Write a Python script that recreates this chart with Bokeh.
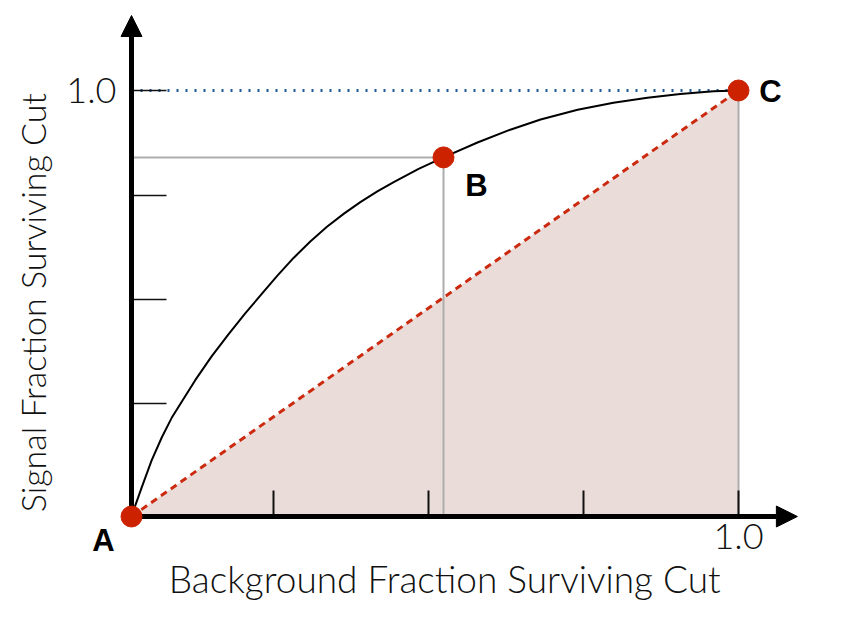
from bokeh.plotting import figure
from bokeh.models import (Range1d, LinearAxis, FixedTicker, CustomJSTickFormatter,
                          Arrow, NormalHead, Label, ColumnDataSource)
from bokeh.core.properties import value
from bokeh.embed import file_html
from bokeh.resources import INLINE

# ---- data ----
curve_x = [0.0, 0.005, 0.017, 0.033, 0.050, 0.066, 0.083, 0.105, 0.132, 0.160, 0.187,
           0.216, 0.240, 0.267, 0.295, 0.322, 0.350, 0.377, 0.405, 0.432, 0.473, 0.514,
           0.570, 0.624, 0.674, 0.735, 0.794, 0.850, 0.904, 0.959, 1.0]
curve_y = [0.0, 0.021, 0.069, 0.131, 0.186, 0.231, 0.270, 0.320, 0.376, 0.428, 0.476,
           0.525, 0.565, 0.607, 0.646, 0.680, 0.711, 0.738, 0.763, 0.785, 0.816, 0.843,
           0.878, 0.908, 0.932, 0.955, 0.971, 0.983, 0.992, 0.998, 1.0]
point_names = ["A", "B", "C"]
point_x = [0.0, 0.514, 1.0]
point_y = [0.0, 0.843, 1.0]
x_ticks = [0.234, 0.489, 0.745, 1.0]
y_ticks = [0.265, 0.509, 0.754, 1.0]
x_title = "Background Fraction Surviving Cut"
y_title = "Signal Fraction Surviving Cut"

FONT = "Lato Light, Roboto Light, Lato, sans-serif"
BOLD = "Liberation Sans"

p = figure(width=830, height=600,
           x_range=Range1d(-0.21582, 1.15156), y_range=Range1d(-0.19718, 1.21127),
           x_axis_type=None, y_axis_type=None, min_border=0,
           outline_line_color=None, toolbar_location=None, output_backend="svg")

# shaded triangle under the diagonal
p.patch([point_x[0], point_x[2], point_x[2]], [point_y[0], point_y[2], point_y[0]],
        fill_color="#EADCD9", line_color=None)

# guide lines for B and C
p.segment(x0=[point_x[1], 0, point_x[2]], y0=[0, point_y[1], 0],
          x1=[point_x[1], point_x[1], point_x[2]], y1=[point_y[1], point_y[1], point_y[2]],
          line_color="#ADADAD", line_width=2)

# dotted line at signal = 1
p.line([0, point_x[2]], [point_y[2], point_y[2]], line_color="#1C5A9A",
       line_width=3, line_dash="2 7")

# random-cut diagonal
p.line([point_x[0], point_x[2]], [point_y[0], point_y[2]], line_color="#CC2A10",
       line_width=3, line_dash="7 5")

# ROC curve
p.line(curve_x, curve_y, line_color="black", line_width=2, line_join="round")

# axes
fmt = CustomJSTickFormatter(code="return tick >= 0.999 ? '1.0' : '';")
xax = LinearAxis(fixed_location=0, bounds=(0, 1.0), ticker=FixedTicker(ticks=x_ticks),
                 formatter=fmt, axis_line_width=5, axis_line_color="black",
                 major_tick_in=26, major_tick_out=0, major_tick_line_width=2,
                 major_tick_line_color="#111111", minor_tick_line_color=None,
                 major_label_standoff=7, major_label_text_font=FONT,
                 major_label_text_font_size="36px", major_label_text_color="#111111")
yax = LinearAxis(fixed_location=0, bounds=(0, 1.0), ticker=FixedTicker(ticks=y_ticks),
                 formatter=fmt, axis_line_width=5, axis_line_color="black",
                 major_tick_in=35, major_tick_out=0, major_tick_line_width=1.5,
                 major_tick_line_color="#111111", minor_tick_line_color=None,
                 major_label_standoff=15, major_label_text_font=FONT,
                 major_label_text_font_size="36px", major_label_text_color="#111111",
                 major_label_orientation="horizontal")
p.add_layout(xax, "below")
p.add_layout(yax, "left")

p.add_layout(Arrow(end=NormalHead(size=21, fill_color="black", line_color="black"),
                   x_start=0, y_start=0, x_end=1.097, y_end=0,
                   line_width=5, line_color="black"))
p.add_layout(Arrow(end=NormalHead(size=21, fill_color="black", line_color="black"),
                   x_start=0, y_start=0, x_end=0, y_end=1.176,
                   line_width=5, line_color="black"))

# axis titles
p.add_layout(Label(x=0.516, y=-0.146, text=x_title, text_align="center",
                   text_baseline="middle", text_font=FONT, text_font_size="37px",
                   text_color="#111111"))
p.add_layout(Label(x=-0.163, y=0.502, text=y_title, text_align="center",
                   text_baseline="middle", angle=1.5708, text_font=FONT,
                   text_font_size="34px", text_color="#111111"))

# points and their letters
src = ColumnDataSource(dict(x=point_x, y=point_y, name=point_names,
                            dx=[-28, 33, 32], dy=[24, 28, 1]))
p.scatter("x", "y", source=src, size=21, fill_color="#CC2200", line_color="#CC2200",
          level="overlay")
p.text("x", "y", text="name", source=src, x_offset="dx", y_offset="dy",
       text_align="center", text_baseline="middle", text_font=value(BOLD),
       text_font_style="bold", text_font_size="31px", text_color="black")

open("out.html", "w").write(file_html(p, INLINE))
